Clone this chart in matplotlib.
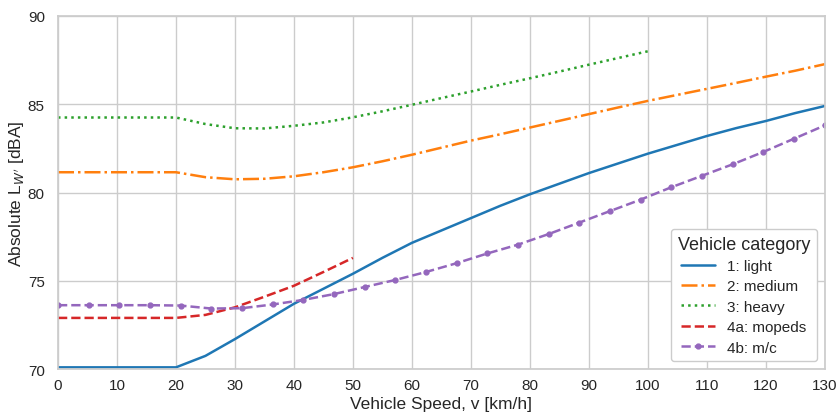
import matplotlib

matplotlib.use("Agg")
import matplotlib.pyplot as plt
import seaborn as sns

# Speeds [km/h]
speed = [0, 5, 10, 15, 20, 25, 30, 35, 40, 45, 50, 55, 60, 65, 70,
         75, 80, 85, 90, 95, 100, 105, 110, 115, 120, 125, 130]
speed_mc = [0, 5.2, 10.4, 15.6, 20.8, 26, 31.2, 36.4, 41.6, 46.8, 52, 57.2, 62.4,
            67.6, 72.8, 78, 83.2, 88.4, 93.6, 98.8, 104, 109.2, 114.4, 119.6,
            124.8, 130]

# Absolute sound power levels [dBA]
light = [70.1, 70.1, 70.1, 70.1, 70.1, 70.75, 71.7, 72.7, 73.7, 74.55, 75.4,
         76.3, 77.15, 77.85, 78.55, 79.25, 79.9, 80.5, 81.1, 81.65, 82.2, 82.7,
         83.2, 83.65, 84.05, 84.5, 84.9]
medium = [81.15, 81.15, 81.15, 81.15, 81.15, 80.87, 80.75, 80.78, 80.92, 81.15,
          81.43, 81.77, 82.14, 82.54, 82.94, 83.3, 83.68, 84.06, 84.44, 84.82,
          85.19, 85.53, 85.87, 86.21, 86.56, 86.9, 87.27]
heavy = [84.25, 84.25, 84.25, 84.25, 84.25, 83.88, 83.64, 83.63, 83.78, 83.97,
         84.26, 84.6, 84.97, 85.35, 85.72, 86.1, 86.47, 86.85, 87.24, 87.62, 88.0]
mopeds = [72.9, 72.9, 72.9, 72.9, 72.9, 73.07, 73.5, 74.1, 74.72, 75.5, 76.3]
mc = [73.62, 73.62, 73.62, 73.62, 73.6, 73.43, 73.45, 73.66, 73.92, 74.25, 74.65,
      75.05, 75.5, 76.0, 76.55, 77.05, 77.65, 78.3, 78.95, 79.6, 80.3, 80.95,
      81.6, 82.3, 83.05, 83.8]

labels = ["1: light", "2: medium", "3: heavy", "4a: mopeds", "4b: m/c"]


def main() -> None:
    sns.set_theme(style="whitegrid")
    plt.rcParams["font.family"] = ["Liberation Sans", "DejaVu Sans"]
    plt.rcParams["mathtext.fontset"] = "dejavusans"

    fig = plt.figure(figsize=(8.37, 4.14), dpi=100)
    ax = fig.add_axes([0.0693, 0.106, 0.916, 0.853])

    pal = sns.color_palette("tab10")
    lw = 1.8
    ax.plot(speed, light, color=pal[0], lw=lw, ls="-", label=labels[0])
    ax.plot(speed, medium, color=pal[1], lw=lw, ls="-.", label=labels[1])
    ax.plot(speed[:len(heavy)], heavy, color=pal[2], lw=lw, ls=":", label=labels[2])
    ax.plot(speed[:len(mopeds)], mopeds, color=pal[3], lw=lw, ls="--", label=labels[3])
    ax.plot(speed_mc, mc, color=pal[4], lw=lw, ls="--", marker="o", ms=3.5,
            label=labels[4])

    ax.set_xlim(0, 130)
    ax.set_ylim(70, 90)
    ax.set_xticks(range(0, 131, 10))
    ax.set_yticks([70, 75, 80, 85, 90])
    ax.tick_params(labelsize=11)
    ax.tick_params(axis="y", pad=3.5)
    ax.tick_params(axis="x", pad=0.5)
    ax.set_xlabel("Vehicle Speed, v [km/h]", fontsize=12.5)
    ax.xaxis.set_label_coords(0.5, -0.075)
    ax.set_ylabel(r"Absolute L$_{W'}$ [dBA]", fontsize=12.5)
    ax.yaxis.set_label_coords(-0.042, 0.5)

    leg = ax.legend(title="Vehicle category", loc="lower right", fontsize=11,
                    title_fontsize=13, handlelength=2.2, borderpad=0.45,
                    labelspacing=0.42, framealpha=1)
    leg.get_frame().set_edgecolor("#cccccc")

    fig.savefig("out.png", dpi=100)
    plt.close(fig)


if __name__ == "__main__":
    main()
